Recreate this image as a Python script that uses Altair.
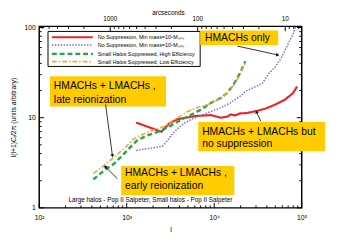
import math
import altair as alt
import pandas as pd

W, H = 269, 186
X_DOMAIN = [100, 100000]
Y_DOMAIN = [1, 103]

# ---- series data (multipole l, l(l+1)Cl/2pi) ----
red_l = [1282, 2503, 3043, 3760, 5995, 9160, 11800, 14000, 15500, 17300, 19630,
         23270, 29990, 38660, 49890, 64300, 79450, 88720]
red_v = [8.82, 6.98, 8.60, 9.59, 10.42, 10.69, 10.0, 10.25, 10.87, 10.6, 11.15,
         11.24, 11.82, 12.64, 13.98, 15.85, 18.74, 22.2]

purple_l = [1282, 2570, 2917, 3311, 3925, 4650, 5995, 8410, 11800, 15230, 19630,
            23270, 29990, 35560, 42070, 49890, 59050, 69980, 79450, 86500]
purple_v = [4.33, 4.83, 5.57, 6.58, 7.78, 8.82, 10.0, 11.34, 12.85, 14.58, 17.23,
            19.87, 22.2, 24.1, 30.97, 36.6, 47.1, 65.8, 84.6, 106]

green_l = [415, 558, 720, 969, 1303, 1681, 2168, 3043, 4270, 5508, 7100, 9160,
           11800, 14000, 16570, 19630, 22690]
green_v = [2.07, 2.62, 3.10, 4.15, 5.57, 6.31, 6.86, 7.91, 9.59, 10.87, 12.33,
           14.58, 16.53, 18.74, 23.1, 30.97, 42.2]

orange_l = [415, 558, 720, 969, 1197, 1544, 2168, 2794, 3311, 4093, 5058, 6523,
            8410, 10850, 12850, 16570, 19630, 22690]
orange_v = [2.41, 2.97, 3.66, 4.71, 5.80, 6.58, 7.46, 8.11, 9.20, 10.42, 11.82,
            13.07, 13.98, 15.59, 17.23, 22.7, 29.7, 40.8]

series_names = ["red", "purple", "green", "orange"]
legend_labels = [
    "No Suppression, Min mass=10\u2075M\u209b\u1d64\u2099",
    "No Suppression, Min mass=10\u2078M\u209b\u1d64\u2099",
    "Small Halos Suppressed, High Efficiency",
    "Small Halos Suppressed, Low Efficiency",
]
colors = ["#E8262B", "#7A6CD0", "#1DA84C", "#F7A447"]
widths = [2.2, 1.5, 2.4, 1.7]
dashes = [[1, 0], [1.5, 1.5], [5, 3], [5, 2, 1.5, 2]]

# ---- axis tick values ----
x_major = [100, 1000, 10000, 100000]
x_minor = [k * 10 ** d for d in (2, 3, 4) for k in range(2, 10)]
y_major = [1, 10, 100]
y_minor = [k * 10 ** d for d in (0, 1) for k in range(2, 10)]
arcsec_major = [1000, 100, 10]
arcsec_minor = [k * 10 ** d for d in (0, 1, 2, 3) for k in range(2, 10)]

# ---- annotation boxes / texts / arrows (data coordinates) ----
box_l1 = [6910, 132.6, 6560, 864]
box_l2 = [53800, 2812, 184600, 16970]
box_v1 = [92.8, 28.8, 8.94, 2.92]
box_v2 = [63.9, 13.3, 4.24, 1.38]

ann_text = ["HMACHs only", "HMACHs + LMACHs ,", "late reionization",
            "HMACHs + LMACHs but", "no suppression",
            "HMACHs + LMACHs ,", "early reionization"]
ann_l = [7850, 147, 147, 7280, 7280, 957, 957]
ann_v = [76.0, 22.5, 15.85, 6.97, 5.04, 2.45, 1.73]

arr_l1 = [18330, 573, 780, 33950]
arr_v1 = [62.3, 14.0, 2.11, 9.17]
arr_l2 = [52500, 685, 573, 30600]
arr_v2 = [49.8, 3.84, 2.84, 11.47]

leg_box_l = [126, 6910]
leg_box_v = [90.5, 37.0]
leg_line_l = [139.6, 410]
leg_text_l = 467
leg_row_v = [78.0, 63.9, 51.1, 41.8]

footer_text = "Large halos - Pop II Salpeter, Small halos - Pop II Salpeter"
footer_l = 216
footer_v = 1.22

FONT = "Liberation Sans"

xs = alt.Scale(type="log", domain=X_DOMAIN, nice=False)
ys = alt.Scale(type="log", domain=Y_DOMAIN, nice=False)

XAX = alt.Axis(orient="bottom", values=x_major, ticks=False, domain=False, grid=False,
               labelExpr="'10' + (datum.value==100?'\u00b2':datum.value==1000?'\u00b3':datum.value==10000?'\u2074':'\u2075')",
               labelFontSize=7, labelPadding=6, labelFlush=False, labelOverlap=False,
               title="l", titleFontSize=7, titleFontWeight="normal", titleY=18)
YAX = alt.Axis(orient="left", values=y_major, ticks=False, domain=False, grid=False,
               format="d", labelFontSize=7, labelPadding=4, labelFlush=False,
               labelOverlap=False,
               title="l(l+1)C\u2097/2\u03c0 (units arbitrary)", titleFontSize=7,
               titleFontWeight="normal", titleX=-26, titleBaseline="middle")


def X(field):
    return alt.X(field, scale=xs, axis=XAX)


def Y(field):
    return alt.Y(field, scale=ys, axis=YAX)


series_data = {
    "red": (red_l, red_v),
    "purple": (purple_l, purple_v),
    "green": (green_l, green_v),
    "orange": (orange_l, orange_v),
}

layers = []

# main line layers
for name, col, w, d in zip(series_names, colors, widths, dashes):
    ls, vs = series_data[name]
    df = pd.DataFrame({"l": ls, "v": vs, "i": list(range(len(ls)))})
    layers.append(
        alt.Chart(df).mark_line(color=col, strokeWidth=w, strokeDash=d, clip=True).encode(
            x=X("l:Q"), y=Y("v:Q"), order="i:Q")
    )

# inward ticks
def xticks(vals, length, bottom=True):
    df = pd.DataFrame({"l": vals})
    if bottom:
        yy, yy2 = alt.value(H), alt.value(H - length)
    else:
        yy, yy2 = alt.value(0), alt.value(length)
    return alt.Chart(df).mark_rule(color="black", strokeWidth=1).encode(
        x=X("l:Q"), y=yy, y2=yy2)

def yticks(vals, length, left=True):
    df = pd.DataFrame({"v": vals})
    if left:
        xx, xx2 = alt.value(0), alt.value(length)
    else:
        xx, xx2 = alt.value(W), alt.value(W - length)
    return alt.Chart(df).mark_rule(color="black", strokeWidth=1).encode(
        y=Y("v:Q"), x=xx, x2=xx2)

layers += [xticks(x_major, 5), xticks(x_minor, 2.5),
           yticks(y_major, 5), yticks(y_minor, 2.5),
           yticks(y_major, 5, left=False), yticks(y_minor, 2.5, left=False)]

# top (arcseconds) ticks and labels
top_major = alt.Chart(pd.DataFrame({"a": arcsec_major})).transform_calculate(
    l="648000 / datum.a").mark_rule(color="black", strokeWidth=1).encode(
    x=X("l:Q"), y=alt.value(0), y2=alt.value(5))
top_minor = alt.Chart(pd.DataFrame({"a": arcsec_minor})).transform_calculate(
    l="648000 / datum.a").transform_filter(
    "datum.l >= 100 && datum.l <= 100000").mark_rule(color="black", strokeWidth=1).encode(
    x=X("l:Q"), y=alt.value(0), y2=alt.value(2.5))
top_labels = alt.Chart(pd.DataFrame({"a": arcsec_major})).transform_calculate(
    l="648000 / datum.a", t="format(datum.a, 'd')").mark_text(
    baseline="middle", align="center", fontSize=6.5, color="black", font=FONT).encode(
    x=X("l:Q"), y=alt.value(-8), text="t:N")
top_title = alt.Chart(pd.DataFrame({"t": ["arcseconds"], "l": [3000]})).mark_text(
    baseline="middle", align="center", fontSize=6.5, color="black", font=FONT).encode(
    x=X("l:Q"), y=alt.value(-14), text="t:N")
layers += [top_major, top_minor, top_labels, top_title]

# legend box
leg_box = alt.Chart(pd.DataFrame({"l1": [leg_box_l[0]], "l2": [leg_box_l[1]],
                                  "v1": [leg_box_v[0]], "v2": [leg_box_v[1]]})).mark_rect(
    fill="white", stroke="black", strokeWidth=1).encode(
    x=X("l1:Q"), x2="l2:Q", y=Y("v1:Q"), y2="v2:Q")
layers.append(leg_box)
for i, (col, w, d) in enumerate(zip(colors, widths, dashes)):
    df = pd.DataFrame({"l1": [leg_line_l[0]], "l2": [leg_line_l[1]], "v": [leg_row_v[i]]})
    layers.append(alt.Chart(df).mark_rule(color=col, strokeWidth=w, strokeDash=d).encode(
        x=X("l1:Q"), x2="l2:Q", y=Y("v:Q")))
leg_txt = alt.Chart(pd.DataFrame({"t": legend_labels, "l": [leg_text_l] * 4, "v": leg_row_v})).mark_text(
    align="left", baseline="middle", fontSize=5.5, color="black", font=FONT).encode(
    x=X("l:Q"), y=Y("v:Q"), text="t:N")
layers.append(leg_txt)

# annotation boxes
boxes = alt.Chart(pd.DataFrame({"l1": box_l1, "l2": box_l2, "v1": box_v1, "v2": box_v2})).mark_rect(
    fill="#FFCC00").encode(x=X("l1:Q"), x2="l2:Q", y=Y("v1:Q"), y2="v2:Q")
texts = alt.Chart(pd.DataFrame({"t": ann_text, "l": ann_l, "v": ann_v})).mark_text(
    align="left", baseline="middle", fontSize=10.6, color="black", font=FONT).encode(
    x=X("l:Q"), y=Y("v:Q"), text="t:N")
layers += [boxes, texts]

# arrows
ylog = math.log10(Y_DOMAIN[1] / Y_DOMAIN[0])
angles = []
for a, b, c, d in zip(arr_l1, arr_v1, arr_l2, arr_v2):
    dx = (math.log10(c) - math.log10(a)) * W / 3
    dy = -(math.log10(d) - math.log10(b)) * H / ylog
    angles.append(math.degrees(math.atan2(dx, -dy)) % 360)
arr_df = pd.DataFrame({"l1": arr_l1, "v1": arr_v1, "l2": arr_l2, "v2": arr_v2, "ang": angles})
arrows = alt.Chart(arr_df).mark_rule(color="black", strokeWidth=0.8).encode(
    x=X("l1:Q"), x2="l2:Q", y=Y("v1:Q"), y2="v2:Q")
heads = alt.Chart(arr_df).mark_point(shape="triangle", filled=True, color="black", size=14, opacity=1).encode(
    x=X("l2:Q"), y=Y("v2:Q"), angle=alt.Angle("ang:Q", scale=None))
layers += [arrows, heads]

footer = alt.Chart(pd.DataFrame({"t": [footer_text], "l": [footer_l], "v": [footer_v]})).mark_text(
    align="left", baseline="middle", fontSize=6.5, color="black", font=FONT).encode(
    x=X("l:Q"), y=Y("v:Q"), text="t:N")
layers.append(footer)

chart = alt.layer(*layers).properties(
    width=W, height=H, autosize="none",
    padding={"left": 32, "top": 16, "right": 30, "bottom": 26},
    background="white",
).configure_view(stroke="black", strokeWidth=1.5).configure_axis(
    labelFont=FONT, titleFont=FONT, labelColor="black", titleColor="black"
).configure_text(font=FONT)

chart.save("out.html", embed_options={"renderer": "svg", "actions": False})
